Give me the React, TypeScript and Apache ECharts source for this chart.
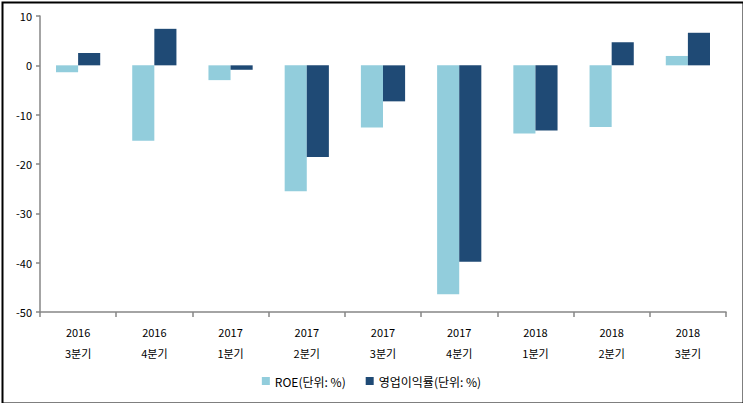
import React, { useEffect, useRef } from "react";
import * as echarts from "echarts";

const categories = ["2016\n3분기", "2016\n4분기", "2017\n1분기", "2017\n2분기", "2017\n3분기", "2017\n4분기", "2018\n1분기", "2018\n2분기", "2018\n3분기"];
const roe = [-1.4, -15.3, -3.0, -25.5, -12.6, -46.4, -13.8, -12.5, 1.9];
const opMargin = [2.5, 7.4, -0.9, -18.6, -7.3, -39.8, -13.2, 4.7, 6.6];
const seriesNames = ["ROE(단위: %)", "영업이익률(단위: %)"];

const FONT = "'Noto Sans CJK KR', 'DejaVu Sans', sans-serif";

export default function App() {
  const ref = useRef<HTMLDivElement>(null);
  useEffect(() => {
    const chart = echarts.init(ref.current!, null, { renderer: "svg" });
    chart.setOption({
      animation: false,
      backgroundColor: "#ffffff",
      textStyle: { fontFamily: FONT },
      grid: { left: 40, right: 17, top: 16, bottom: 91 },
      legend: {
        bottom: 11,
        left: "center",
        icon: "rect",
        itemWidth: 8,
        itemHeight: 8,
        itemGap: 20,
        textStyle: { fontFamily: FONT, fontSize: 12, color: "#000" },
        data: seriesNames,
      },
      xAxis: [
        {
          type: "category",
          data: categories,
          position: "bottom",
          axisLine: { show: false },
          axisTick: { show: false },
          axisLabel: { fontFamily: FONT, fontSize: 11, color: "#000", lineHeight: 21, margin: 9 },
        },
        {
          type: "category",
          data: categories,
          position: "bottom",
          axisLine: { show: true, onZero: true, lineStyle: { color: "#868686", width: 1.5 } },
          axisTick: { show: true, length: 5, lineStyle: { color: "#868686", width: 1.5 } },
          axisLabel: { show: false },
        },
      ],
      yAxis: {
        type: "value",
        min: -50,
        max: 10,
        interval: 10,
        splitLine: { show: false },
        axisLine: { show: true, lineStyle: { color: "#868686", width: 1.5 } },
        axisTick: { show: true, length: 4, lineStyle: { color: "#868686", width: 1.5 } },
        axisLabel: { fontFamily: FONT, fontSize: 11, color: "#000", margin: 8 },
      },
      series: [
        {
          name: seriesNames[0],
          type: "bar",
          data: roe,
          xAxisIndex: 0,
          barGap: "0%",
          barCategoryGap: "42%",
          itemStyle: { color: "#92CDDC" },
        },
        {
          name: seriesNames[1],
          type: "bar",
          data: opMargin,
          xAxisIndex: 0,
          barGap: "0%",
          barCategoryGap: "42%",
          itemStyle: { color: "#1F4A75" },
        },
      ],
      graphic: [
        {
          type: "rect",
          left: 0,
          top: 0,
          shape: { x: 1, y: 1, width: 741, height: 401 },
          style: { fill: "none", stroke: "#000", lineWidth: 2 },
          silent: true,
        },
      ],
    });
    return () => chart.dispose();
  }, []);
  return (
    <div
      ref={ref}
      style={{ position: "absolute", left: 0, top: 0, width: 743, height: 403 }}
    />
  );
}
